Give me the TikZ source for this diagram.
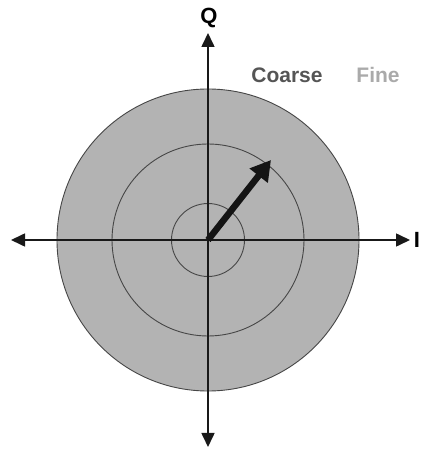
\documentclass[tikz,border=0pt]{standalone}
\usepackage{fontspec}
\setmainfont{Liberation Sans}
\usetikzlibrary{arrows.meta}
\definecolor{fillgray}{RGB}{179,179,179}
\definecolor{ringgray}{RGB}{70,70,70}
\definecolor{coarsecol}{RGB}{85,85,85}
\definecolor{finecol}{RGB}{170,170,170}
\begin{document}
\begin{tikzpicture}[x=1pt,y=1pt,
  ring/.style={draw=ringgray,line width=0.9pt},
  axis/.style={draw=black!90,line width=1.6pt,-{Triangle[length=14pt,width=13pt]}},
  vec/.style={draw=black!92,line width=6.5pt,-{Triangle[length=20pt,width=22pt]}},
  lbl/.style={font=\bfseries\fontsize{22}{26}\selectfont,inner sep=0pt},
  word/.style={font=\bfseries\fontsize{21}{25}\selectfont,inner sep=0pt}]
\useasboundingbox (0,0) rectangle (422,450);
\fill[white] (0,0) rectangle (422,450);
\coordinate (o) at (208,210);
\node[circle,fill=fillgray,draw=ringgray,line width=0.9pt,minimum size=302pt,inner sep=0pt] (outer) at (o) {};
\node[circle,ring,minimum size=192pt,inner sep=0pt] (middle) at (o) {};
\node[circle,ring,minimum size=73pt,inner sep=0pt] (inner) at (o) {};
\coordinate (top) at (208,417);
\coordinate (bottom) at (208,3);
\coordinate (left) at (11,210);
\coordinate (right) at (410,210);
\coordinate (tip) at (271,290);
\draw[axis] (o) -- (top);
\draw[axis] (o) -- (bottom);
\draw[axis] (o) -- (left);
\draw[axis] (o) -- (right);
\draw[vec] (o) -- (tip);
\node[lbl] (Q) at (209,432) {Q};
\node[lbl] (I) at (417,210) {I};
\node[word,text=coarsecol] (coarse) at (287,375) {Coarse};
\node[word,text=finecol] (fine) at (378,375) {Fine};
\end{tikzpicture}
\end{document}
